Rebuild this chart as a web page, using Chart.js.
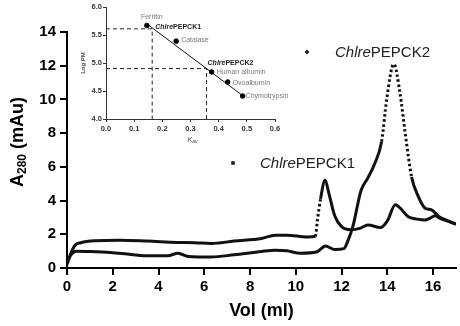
<!DOCTYPE html>
<html>
<head>
<meta charset="utf-8">
<script src="https://cdn.jsdelivr.net/npm/chart.js@4.4.0/dist/chart.umd.min.js"></script>
<style>
  body { margin: 0; background: #fff; }
  #wrap { position: relative; width: 460px; height: 326px; }
  #inset { position: absolute; left: 70px; top: 0; }
</style>
</head>
<body>
<div id="wrap">
  <canvas id="main" width="460" height="326"></canvas>
  <canvas id="inset" width="220" height="150"></canvas>
</div>
<script>
// main chromatogram
var volTicks = [0, 2, 4, 6, 8, 10, 12, 14, 16];
var absTicks = [0, 2, 4, 6, 8, 10, 12, 14];

var pepck1Vol = [0, 0.15, 0.35, 0.6, 1.2, 2.3, 3.5, 4.8, 5.6, 6.3, 7.3, 8.5, 9.1, 9.6, 10.5, 10.85, 10.95, 11.08, 11.28, 11.45, 11.7, 12.0, 12.4, 12.8, 13.15, 13.7, 14.0, 14.35, 14.6, 14.9, 15.3, 15.65, 15.85, 16.08, 16.3, 16.7, 17.0];
var pepck1Abs = [0.2, 0.8, 1.35, 1.5, 1.62, 1.65, 1.6, 1.52, 1.5, 1.45, 1.6, 1.75, 1.95, 1.95, 1.84, 1.88, 2.9, 4.1, 5.2, 4.4, 3.1, 2.45, 2.27, 2.35, 2.55, 2.4, 2.8, 3.75, 3.5, 3.05, 2.9, 2.85, 2.95, 3.1, 2.95, 2.75, 2.6];

var pepck2Vol = [0, 0.15, 0.4, 1.0, 1.9, 2.8, 3.6, 4.4, 4.85, 5.3, 6.3, 7.3, 8.5, 9.1, 9.6, 10.2, 10.9, 11.3, 11.7, 12.1, 12.3, 12.5, 12.85, 13.15, 13.45, 13.75, 13.97, 14.28, 14.55, 14.78, 15.06, 15.35, 15.65, 15.93, 16.25, 16.65, 17.0];
var pepck2Abs = [0.3, 0.75, 1.0, 0.98, 0.92, 0.8, 0.72, 0.72, 0.88, 0.68, 0.65, 0.78, 0.98, 1.05, 1.02, 0.88, 0.95, 1.3, 1.1, 1.15, 1.7, 2.5, 4.6, 5.35, 6.2, 7.5, 10.0, 12.1, 10.4, 8.0, 5.4, 4.25, 3.55, 3.45, 3.05, 2.8, 2.6];

var seriesNames = ['PEPCK1', 'PEPCK2'];
var speciesPrefix = 'Chlre';

// inset calibration
var kavTicks = [0, 0.1, 0.2, 0.3, 0.4, 0.5, 0.6];
var logTicks = [4.0, 4.5, 5.0, 5.5, 6.0];

var standardNames = ['Ferritin', 'Catalase', 'Human albumin', 'Ovoalbumin', 'Chymotrypsin'];
var standardKav = [0.145, 0.249, 0.375, 0.432, 0.485];
var standardLogPM = [5.67, 5.39, 4.84, 4.66, 4.41];

var fitKav = [0.15, 0.487];
var fitLogPM = [5.68, 4.41];

var sampleKav = [0.164, 0.357];
var sampleLogPM = [5.61, 4.90];

var FONT = "'Liberation Sans', Arial, sans-serif";

function toPoints(xs, ys) {
    return xs.map(function (x, i) { return { x: x, y: ys[i] }; });
}

// steep parts of the trace look dotted in the original
function steepDash(ctx) {
    var dx = Math.abs(ctx.p1.x - ctx.p0.x);
    var dy = Math.abs(ctx.p1.y - ctx.p0.y);
    return dy > 4.5 * dx ? [2.5, 2.5] : undefined;
}

var mainLabels = {
    id: 'mainLabels',
    afterDraw: function (chart) {
        var c = chart.ctx;
        c.save();
        c.fillStyle = '#000';
        // y title with subscript
        c.translate(18, 142);
        c.rotate(-Math.PI / 2);
        c.textBaseline = 'middle';
        var big = 'bold 18px ' + FONT, small = 'bold 12px ' + FONT;
        c.font = big; var wA = c.measureText('A').width;
        c.font = small; var wS = c.measureText('280').width;
        c.font = big; var wR = c.measureText(' (mAu)').width;
        var x0 = -(wA + wS + wR) / 2;
        c.font = big; c.fillText('A', x0, 0);
        c.font = small; c.fillText('280', x0 + wA, 5);
        c.font = big; c.fillText(' (mAu)', x0 + wA + wS, 0);
        c.restore();

        // legend entries
        c.save();
        c.fillStyle = '#222';
        c.textBaseline = 'middle';
        var entries = [
            { name: seriesNames[1], mx: 307, my: 52, tx: 335, ty: 53, diamond: true },
            { name: seriesNames[0], mx: 233, my: 163, tx: 260, ty: 164, diamond: false }
        ];
        entries.forEach(function (e) {
            c.beginPath();
            if (e.diamond) {
                c.moveTo(e.mx, e.my - 2.5); c.lineTo(e.mx + 2.5, e.my);
                c.lineTo(e.mx, e.my + 2.5); c.lineTo(e.mx - 2.5, e.my);
                c.closePath(); c.fill();
            } else {
                c.fillRect(e.mx - 1.8, e.my - 1.8, 3.6, 3.6);
            }
            c.font = 'italic 15px ' + FONT;
            c.fillText(speciesPrefix, e.tx, e.ty);
            var w = c.measureText(speciesPrefix).width;
            c.font = '15px ' + FONT;
            c.fillText(e.name, e.tx + w, e.ty);
        });
        c.restore();
    }
};

new Chart(document.getElementById('main'), {
    type: 'line',
    data: {
        datasets: [{
            label: speciesPrefix + seriesNames[0],
            data: toPoints(pepck1Vol, pepck1Abs),
            borderColor: '#111',
            borderWidth: 3,
            pointRadius: 0,
            cubicInterpolationMode: 'monotone',
            segment: { borderDash: steepDash }
        }, {
            label: speciesPrefix + seriesNames[1],
            data: toPoints(pepck2Vol, pepck2Abs),
            borderColor: '#111',
            borderWidth: 3,
            pointRadius: 0,
            cubicInterpolationMode: 'monotone',
            segment: { borderDash: steepDash }
        }]
    },
    options: {
        responsive: false,
        animation: false,
        devicePixelRatio: 1,
        layout: { padding: { top: 32, right: 4, left: 0, bottom: 0 } },
        plugins: { legend: { display: false }, tooltip: { enabled: false } },
        scales: {
            x: {
                type: 'linear', min: 0, max: 17,
                afterBuildTicks: function (s) { s.ticks = volTicks.map(function (v) { return { value: v }; }); },
                afterFit: function (s) { s.height = 58; },
                border: { display: true, color: '#000', width: 2 },
                grid: { drawOnChartArea: false, drawTicks: true, tickLength: 7, color: '#000', lineWidth: 2 },
                ticks: { color: '#000', padding: 3, maxRotation: 0, font: { family: FONT, size: 15, weight: 'bold' } },
                title: { display: true, text: 'Vol (ml)', color: '#000', padding: { top: 0, bottom: 4 }, font: { family: FONT, size: 18, weight: 'bold' } }
            },
            y: {
                type: 'linear', min: 0, max: 14,
                afterBuildTicks: function (s) { s.ticks = absTicks.map(function (v) { return { value: v }; }); },
                afterFit: function (s) { s.width = 67; },
                border: { display: true, color: '#000', width: 2 },
                grid: { drawOnChartArea: false, drawTicks: true, tickLength: 7, color: '#000', lineWidth: 2 },
                ticks: { color: '#000', padding: 4, font: { family: FONT, size: 15, weight: 'bold' } }
            }
        }
    },
    plugins: [mainLabels]
});

var insetLabels = {
    id: 'insetLabels',
    afterDraw: function (chart) {
        var c = chart.ctx, xs = chart.scales.x, ys = chart.scales.y;
        c.save();
        c.textBaseline = 'middle';
        // standards
        var off = [[5, -8, 'center'], [5, -1.5, 'left'], [5, 0, 'left'], [5, 1, 'left'], [3, 0.5, 'left']];
        c.font = '7px ' + FONT;
        c.fillStyle = '#777';
        standardNames.forEach(function (n, i) {
            c.textAlign = off[i][2];
            c.fillText(n, xs.getPixelForValue(standardKav[i]) + off[i][0], ys.getPixelForValue(standardLogPM[i]) + off[i][1]);
        });
        // samples
        var soff = [[3, -2], [1, -6]];
        c.textAlign = 'left';
        c.fillStyle = '#222';
        seriesNames.forEach(function (n, i) {
            var px = xs.getPixelForValue(sampleKav[i]) + soff[i][0];
            var py = ys.getPixelForValue(sampleLogPM[i]) + soff[i][1];
            c.font = 'italic bold 7px ' + FONT;
            c.fillText(speciesPrefix, px, py);
            var w = c.measureText(speciesPrefix).width;
            c.font = 'bold 7px ' + FONT;
            c.fillText(n, px + w, py);
        });
        // axis titles
        c.fillStyle = '#444';
        c.save();
        c.translate(13, (chart.chartArea.top + chart.chartArea.bottom) / 2);
        c.rotate(-Math.PI / 2);
        c.textAlign = 'center';
        c.font = 'bold 6px ' + FONT;
        c.fillText('Log PM', 0, 0);
        c.restore();
        var cx = (chart.chartArea.left + chart.chartArea.right) / 2 - 3;
        c.textAlign = 'left';
        c.font = 'italic 7px ' + FONT;
        c.fillText('K', cx, 140);
        var wk = c.measureText('K').width;
        c.font = 'italic 5px ' + FONT;
        c.fillText('av', cx + wk, 142);
        c.restore();
    }
};

var guideSets = sampleKav.map(function (k, i) {
    return {
        data: [{ x: kavTicks[0], y: sampleLogPM[i] }, { x: k, y: sampleLogPM[i] }, { x: k, y: logTicks[0] }],
        showLine: true,
        borderColor: '#222',
        borderWidth: 1,
        borderDash: [4, 3],
        pointRadius: 0
    };
});

new Chart(document.getElementById('inset'), {
    type: 'scatter',
    data: {
        datasets: [{
            data: toPoints(standardKav, standardLogPM),
            backgroundColor: '#000',
            borderColor: '#000',
            pointRadius: 2.3
        }, {
            data: toPoints(fitKav, fitLogPM),
            showLine: true,
            borderColor: '#111',
            borderWidth: 1,
            pointRadius: 0
        }].concat(guideSets)
    },
    options: {
        responsive: false,
        animation: false,
        devicePixelRatio: 1,
        layout: { padding: { top: 7, right: 15, left: 0, bottom: 0 } },
        plugins: { legend: { display: false }, tooltip: { enabled: false } },
        scales: {
            x: {
                type: 'linear', min: 0, max: 0.6,
                afterBuildTicks: function (s) { s.ticks = kavTicks.map(function (v) { return { value: v }; }); },
                afterFit: function (s) { s.height = 31; },
                border: { display: true, color: '#333', width: 1 },
                grid: { drawOnChartArea: false, drawTicks: true, tickLength: 3, color: '#333', lineWidth: 1 },
                ticks: { color: '#333', padding: 2, maxRotation: 0, font: { family: FONT, size: 7.5, weight: 'bold' },
                    callback: function (v) { return v.toFixed(1); } }
            },
            y: {
                type: 'linear', min: 4, max: 6,
                afterBuildTicks: function (s) { s.ticks = logTicks.map(function (v) { return { value: v }; }); },
                afterFit: function (s) { s.width = 36; },
                border: { display: true, color: '#333', width: 1 },
                grid: { drawOnChartArea: false, drawTicks: true, tickLength: 3, color: '#333', lineWidth: 1 },
                ticks: { color: '#333', padding: 1, font: { family: FONT, size: 7.5, weight: 'bold' },
                    callback: function (v) { return v.toFixed(1); } }
            }
        }
    },
    plugins: [insetLabels]
});
</script>
</body>
</html>
